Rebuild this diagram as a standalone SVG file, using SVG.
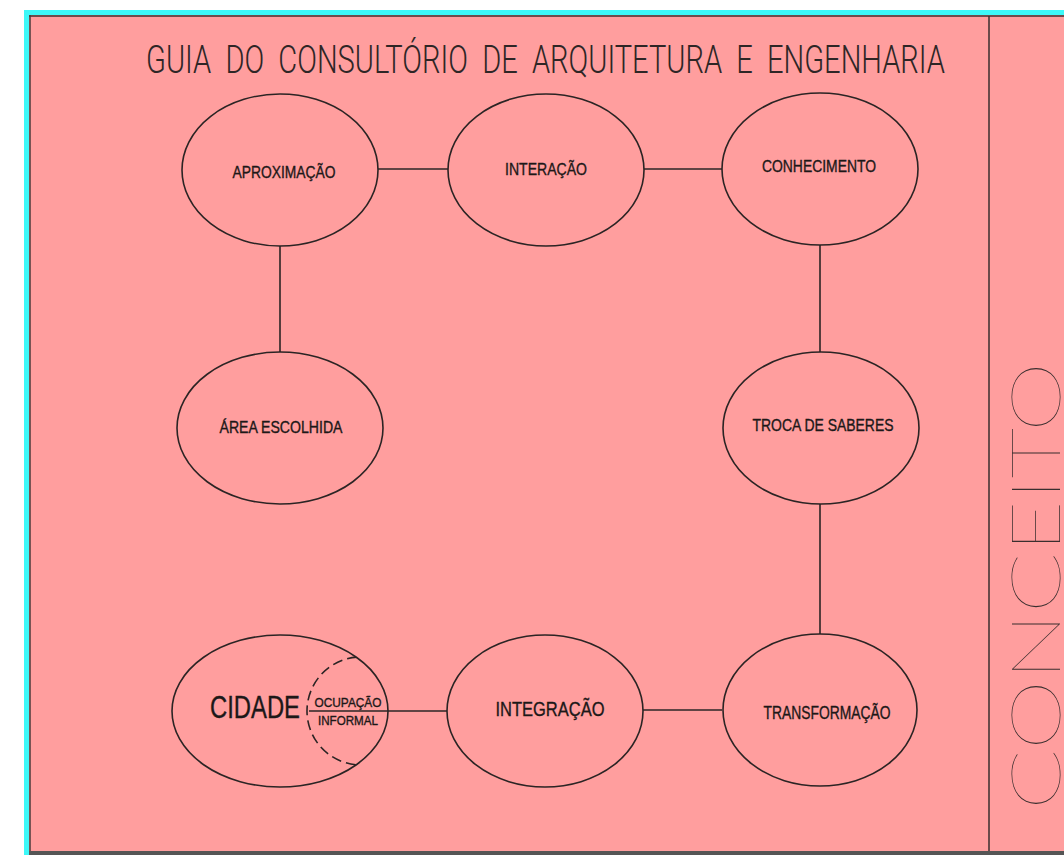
<svg xmlns="http://www.w3.org/2000/svg" width="1064" height="855" viewBox="0 0 1064 855">
  <style>
    .node ellipse { fill: none; stroke: #2b2424; stroke-width: 1.6; }
    .lbl { font-family: "Liberation Sans Narrow", "Liberation Sans", Arial, sans-serif; fill: #1c1818; stroke: #1c1818; stroke-width: 0.35; text-anchor: middle; }
    .conn line { stroke: #2b2424; stroke-width: 1.6; }
  </style>
  <defs>
    <clipPath id="cidClip">
      <ellipse cx="280" cy="711" rx="108" ry="76"/>
    </clipPath>
  </defs>

  <!-- frame -->
  <rect x="0" y="0" width="1064" height="855" fill="#ffffff"/>
  <rect x="24" y="10" width="1045" height="850" fill="#3df8f8"/>
  <rect x="29" y="15" width="1040" height="836" fill="#ff9e9e"/>
  <line x1="29" y1="16" x2="1064" y2="16" stroke="#6e4c4c" stroke-width="2"/>
  <line x1="30" y1="15" x2="30" y2="855" stroke="#4a3a3a" stroke-width="1.5"/>
  <rect x="29" y="851" width="1040" height="4" fill="#555555"/>
  <line x1="989" y1="16" x2="989" y2="851" stroke="#3a2e2e" stroke-width="1.5"/>

  <!-- title -->
  <text xml:space="preserve" x="146" y="73" font-family="Roboto, 'Liberation Sans', sans-serif" font-weight="300" font-size="38" fill="#2e2626" textLength="799" lengthAdjust="spacingAndGlyphs">GUIA  DO  CONSULTÓRIO  DE  ARQUITETURA  E  ENGENHARIA</text>

  <!-- side label -->
  <text transform="translate(1060 810) rotate(-90)" x="0" y="0" font-family="Lato, Inter, 'Open Sans', sans-serif" font-weight="100" font-size="69" fill="#3a2e2e" textLength="448" lengthAdjust="spacingAndGlyphs">CONCEITO</text>

  <!-- connectors -->
  <g id="connectors" class="conn">
    <line x1="378" y1="169" x2="448" y2="169"/>
    <line x1="644" y1="169" x2="722" y2="169"/>
    <line x1="280" y1="246" x2="280" y2="352"/>
    <line x1="820" y1="245" x2="820" y2="352"/>
    <line x1="820" y1="504" x2="820" y2="634"/>
    <line x1="643" y1="710" x2="722" y2="710"/>
    <line x1="309" y1="711" x2="447" y2="711"/>
  </g>

  <g id="node-aproximacao" class="node">
    <ellipse cx="280" cy="170" rx="98" ry="76"/>
    <text class="lbl" x="284" y="178" font-size="17" textLength="103" lengthAdjust="spacingAndGlyphs">APROXIMAÇÃO</text>
  </g>
  <g id="node-interacao" class="node">
    <ellipse cx="546" cy="170" rx="98" ry="76"/>
    <text class="lbl" x="546" y="175" font-size="17" textLength="82" lengthAdjust="spacingAndGlyphs">INTERAÇÃO</text>
  </g>
  <g id="node-conhecimento" class="node">
    <ellipse cx="820" cy="169" rx="98" ry="76"/>
    <text class="lbl" x="819" y="172" font-size="17" textLength="114" lengthAdjust="spacingAndGlyphs">CONHECIMENTO</text>
  </g>
  <g id="node-area-escolhida" class="node">
    <ellipse cx="280" cy="428" rx="103" ry="76"/>
    <text class="lbl" x="281" y="433" font-size="17" textLength="123" lengthAdjust="spacingAndGlyphs">ÁREA ESCOLHIDA</text>
  </g>
  <g id="node-troca-de-saberes" class="node">
    <ellipse cx="821" cy="428" rx="98" ry="76"/>
    <text class="lbl" x="823" y="431" font-size="17" textLength="141" lengthAdjust="spacingAndGlyphs">TROCA DE SABERES</text>
  </g>
  <g id="node-cidade" class="node">
    <ellipse cx="280" cy="711" rx="108" ry="76"/>
    <circle cx="361" cy="711" r="54" fill="none" stroke="#2b2424" stroke-width="1.6" stroke-dasharray="10 5" clip-path="url(#cidClip)"/>
    <text class="lbl" x="255" y="718" font-size="31" textLength="90" lengthAdjust="spacingAndGlyphs">CIDADE</text>
    <text class="lbl" x="348" y="707" font-size="13" textLength="67" lengthAdjust="spacingAndGlyphs">OCUPAÇÃO</text>
    <text class="lbl" x="348" y="725" font-size="13" textLength="60" lengthAdjust="spacingAndGlyphs">INFORMAL</text>
  </g>
  <g id="node-integracao" class="node">
    <ellipse cx="545" cy="711" rx="98" ry="76"/>
    <text class="lbl" x="550" y="716" font-size="21" textLength="109" lengthAdjust="spacingAndGlyphs">INTEGRAÇÃO</text>
  </g>
  <g id="node-transformacao" class="node">
    <ellipse cx="820" cy="710" rx="97" ry="76"/>
    <text class="lbl" x="827" y="719" font-size="18" textLength="127" lengthAdjust="spacingAndGlyphs">TRANSFORMAÇÃO</text>
  </g>
</svg>
